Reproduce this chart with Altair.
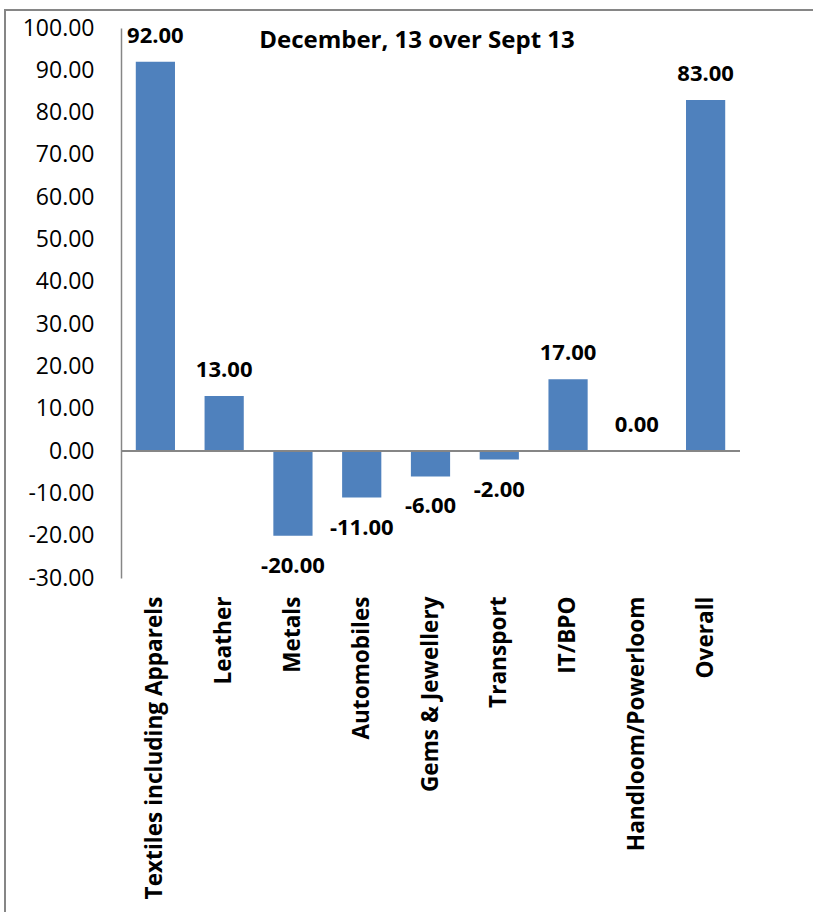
import altair as alt
import pandas as pd

categories = ["Textiles including Apparels", "Leather", "Metals", "Automobiles",
              "Gems & Jewellery", "Transport", "IT/BPO", "Handloom/Powerloom", "Overall"]
values = [92.0, 13.0, -20.0, -11.0, -6.0, -2.0, 17.0, 0.0, 83.0]
title_text = "December, 13 over Sept 13"

df = pd.DataFrame({"category": categories, "value": values})
df["label"] = [f"{v:.2f}" for v in values]

FONT = "Open Sans"
GRAY = "#868686"
BLUE = "#4F81BD"

x_enc = alt.X("category:N", sort=categories, title=None,
              scale=alt.Scale(paddingInner=0.43, paddingOuter=0.215),
              axis=alt.Axis(orient="bottom", labelAngle=270, labelAlign="right",
                            labelBaseline="middle", labelFont=FONT, labelFontSize=22.6,
                            labelFontWeight="bold", labelColor="#000000",
                            labelPadding=18, ticks=False, domain=False, labelLimit=400))
y_scale = alt.Scale(domain=[-30, 100], nice=False, zero=False)
y_enc = alt.Y("value:Q", scale=y_scale, title=None,
              axis=alt.Axis(values=list(range(-30, 101, 10)), grid=False, ticks=False,
                            labelExpr="replace(format(datum.value, '.2f'), '\u2212', '-')",
                            labelFont=FONT, labelFontSize=23, labelColor="#000000",
                            labelPadding=27, domainColor=GRAY, domainWidth=1.5))

base = alt.Chart(df)

bars = base.mark_bar(color=BLUE).encode(x=x_enc, y=y_enc, y2=alt.datum(0))

zero_line = base.mark_rule(color=GRAY, strokeWidth=1.5).encode(
    y=alt.datum(0), x=alt.value(0), x2=alt.value(619))

lab_pos = base.transform_filter("datum.value >= 0").mark_text(
    font=FONT, fontSize=22, fontWeight="bold", color="#000000",
    baseline="middle", dy=-26).encode(x=alt.X("category:N", sort=categories),
                                      y=alt.Y("value:Q", scale=y_scale), text="label:N")
lab_neg = base.transform_filter("datum.value < 0").mark_text(
    font=FONT, fontSize=22, fontWeight="bold", color="#000000",
    baseline="middle", dy=30).encode(x=alt.X("category:N", sort=categories),
                                     y=alt.Y("value:Q", scale=y_scale), text="label:N")

title = alt.Chart(pd.DataFrame({"t": [title_text]})).mark_text(
    font=FONT, fontSize=24, fontWeight="bold", color="#000000",
    align="center", baseline="alphabetic").encode(
    x=alt.value(296), y=alt.value(20), text="t:N")

border = alt.Chart(pd.DataFrame({"b": [1]})).mark_rect(
    fill=None, stroke=GRAY, strokeWidth=2).encode(
    x=alt.value(-116), x2=alt.value(800), y=alt.value(-18), y2=alt.value(1000))

chart = alt.layer(border, bars, zero_line, lab_pos, lab_neg, title).properties(
    width=619, height=550,
    autosize=alt.AutoSizeParams(type="none"),
    padding={"left": 121, "top": 28, "right": 73, "bottom": 334},
    background="#ffffff",
).configure_view(stroke=None)

chart.save("out.html", embed_options={"renderer": "svg", "actions": False})
